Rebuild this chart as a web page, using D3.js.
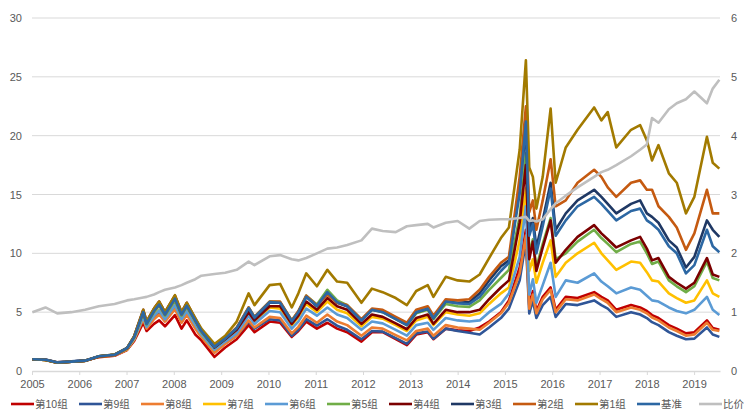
<!DOCTYPE html>
<html>
<head>
<meta charset="utf-8">
<script src="https://cdn.jsdelivr.net/npm/d3@7"></script>
<style>
    body { margin: 0; background: #fff; }
    #chart { width: 744px; height: 414px; }
    text { font-family: "Liberation Sans", Arial, "Noto Sans CJK SC", sans-serif; }
</style>
</head>
<body>
<div id="chart"></div>
<script>
// values (left axis for groups/benchmark, right axis for ratio)
const dates = ["2005-01-04","2005-04-15","2005-07-15","2005-11-01","2006-02-15","2006-06-01","2006-10-01",
    "2007-01-05","2007-03-01","2007-05-10","2007-06-05","2007-08-01","2007-09-10","2007-10-25",
    "2008-01-10","2008-03-01","2008-04-10","2008-06-15","2008-08-01","2008-11-10",
    "2009-02-01","2009-05-01","2009-08-01","2009-09-15",
    "2010-01-10","2010-04-01","2010-06-30","2010-08-20","2010-10-20",
    "2011-01-10","2011-04-01","2011-06-15","2011-09-01","2011-12-20",
    "2012-03-10","2012-06-01","2012-09-10","2012-12-05",
    "2013-02-15","2013-05-15","2013-06-28","2013-10-01",
    "2014-01-01","2014-04-01","2014-06-20","2014-09-01","2014-12-01",
    "2015-02-01","2015-04-25","2015-06-12","2015-07-08","2015-08-05","2015-09-01","2015-10-20","2015-12-20",
    "2016-01-28","2016-04-15","2016-07-15","2016-11-20",
    "2017-01-15","2017-03-05","2017-05-10","2017-09-01","2017-11-10",
    "2018-01-01","2018-02-10","2018-04-01","2018-06-20","2018-08-20","2018-10-30",
    "2019-01-03","2019-04-10","2019-05-25","2019-07-15"];

const group1 = [1.00,0.93,0.70,0.78,0.86,1.25,1.40,1.95,2.95,5.20, 4.20,5.30,5.90,5.00,6.45,5.00,5.80,4.50,3.60,2.30,
    3.00,4.20,6.60,5.60,7.30,7.40,5.40,6.60,8.30,7.20, 8.60,7.60,7.50,5.80,7.00,6.70,6.20,5.60,6.80,7.30,
    6.30,8.00,7.70,7.60,8.20,9.60,11.30,12.20,18.80,26.40, 17.30,16.50,13.80,16.50,22.30,16.00,19.00,20.50,22.40,21.30,
    22.00,19.00,20.50,20.90,19.60,17.90,19.20,16.80,16.00,13.40, 14.80,19.90,17.70,17.20];
const group2 = [1.00,0.94,0.71,0.79,0.87,1.24,1.38,1.93,2.90,5.00, 4.05,5.10,5.65,4.80,6.15,4.80,5.55,4.30,3.40,2.10,
    2.80,3.70,5.40,4.60,5.90,5.90,4.30,5.10,6.40,5.60, 6.50,5.80,5.60,4.40,5.30,5.20,4.60,4.10,5.20,5.50,
    4.70,6.10,6.00,6.10,6.90,8.00,9.20,9.70,16.50,22.50, 13.50,14.50,12.00,14.50,18.00,14.00,14.50,16.00,17.10,16.50,
    15.60,14.80,16.00,16.20,15.40,15.40,14.00,13.10,12.20,10.30, 11.70,15.40,13.40,13.40];
const group3 = [1.00,0.95,0.72,0.80,0.88,1.26,1.40,1.96,2.92,5.05, 4.05,5.15,5.70,4.85,6.20,4.85,5.60,4.30,3.40,2.05,
    2.75,3.60,5.30,4.50,5.80,5.80,4.20,5.00,6.30,5.50, 6.60,5.80,5.50,4.30,5.20,5.05,4.45,3.95,5.00,5.30,
    4.50,5.90,5.80,5.85,6.60,7.70,8.90,9.40,15.50,20.50, 12.00,13.00,10.50,12.80,16.00,12.00,13.40,14.50,15.40,14.80,
    14.20,13.40,14.20,14.50,13.40,13.10,12.60,11.10,10.50,8.80, 9.70,12.80,12.00,11.40];
const group4 = [1.00,0.93,0.70,0.78,0.86,1.22,1.36,1.92,2.95,5.20, 4.20,5.30,5.90,5.00,6.40,5.00,5.80,4.45,3.50,2.00,
    2.70,3.50,5.00,4.30,5.50,5.50,4.00,4.70,5.90,5.20, 6.20,5.50,5.20,4.00,4.80,4.60,4.05,3.55,4.50,4.80,
    4.00,5.20,5.00,5.00,5.20,6.10,7.10,7.70,12.60,17.50, 9.50,11.00,8.50,10.50,12.80,9.20,10.30,11.40,12.40,11.70,
    11.20,10.50,11.10,11.40,10.40,9.40,9.60,8.00,7.50,7.00, 7.50,9.60,8.20,8.00];
const group5 = [1.00,0.94,0.71,0.79,0.87,1.24,1.38,1.93,2.85,4.90, 3.95,5.00,5.55,4.70,6.00,4.70,5.45,4.20,3.30,2.00,
    2.70,3.60,5.40,4.60,5.90,5.85,4.30,5.05,6.40,5.65, 6.90,6.00,5.60,4.35,5.20,5.00,4.40,3.90,4.90,5.20,
    4.40,5.70,5.50,5.45,6.00,6.90,7.90,8.60,13.10,18.50, 10.00,11.20,8.80,10.80,13.00,9.50,10.00,11.00,12.00,11.30,
    10.80,10.10,10.80,11.00,10.00,9.10,9.30,7.70,7.20,6.70, 7.20,9.30,7.90,7.70];
const group6 = [1.00,0.95,0.73,0.80,0.88,1.23,1.36,1.88,2.75,4.60, 3.75,4.70,5.15,4.40,5.60,4.40,5.10,3.90,3.10,1.80,
    2.50,3.20,4.70,4.00,5.10,5.00,3.60,4.20,5.30,4.70, 5.40,4.80,4.50,3.50,4.20,4.05,3.50,3.00,3.90,4.10,
    3.50,4.50,4.30,4.20,4.30,5.00,5.70,6.60,9.70,14.00, 6.50,7.80,5.80,7.30,9.20,6.30,7.70,7.50,8.30,7.60,
    7.20,6.60,7.10,6.90,6.40,6.00,5.90,5.40,5.10,4.90, 5.20,6.30,5.20,4.75];
const group7 = [1.00,0.94,0.72,0.79,0.87,1.22,1.35,1.85,2.72,4.65, 3.80,4.75,5.20,4.45,5.65,4.45,5.15,3.95,3.10,1.80,
    2.55,3.35,4.90,4.20,5.40,5.30,3.90,4.55,5.70,5.00, 5.90,5.20,4.90,3.80,4.60,4.45,3.90,3.40,4.30,4.60,
    3.90,5.00,4.80,4.70,4.90,5.70,6.60,7.10,11.10,15.50, 8.50,9.50,7.50,9.20,11.10,8.00,9.20,10.00,10.90,10.00,
    9.40,8.60,9.30,9.20,8.40,7.70,7.60,6.60,6.20,5.80, 6.00,7.70,6.60,6.30];
const group8 = [1.00,0.96,0.74,0.81,0.89,1.21,1.33,1.82,2.65,4.40, 3.60,4.40,4.80,4.20,5.25,4.10,4.80,3.60,2.90,1.55,
    2.30,3.00,4.30,3.70,4.60,4.50,3.20,3.75,4.70,4.10, 4.80,4.20,3.90,3.00,3.70,3.60,3.05,2.60,3.40,3.60,
    3.00,3.90,3.70,3.60,3.50,4.10,4.90,5.80,8.30,11.50, 5.30,6.50,4.90,6.10,6.90,5.00,6.10,6.00,6.50,6.10,
    5.80,5.00,5.40,5.20,4.90,4.55,4.30,3.70,3.40,3.00, 3.10,4.10,3.50,3.40];
const group9 = [1.00,0.97,0.75,0.82,0.90,1.24,1.37,1.86,2.70,4.50, 3.65,4.50,4.95,4.25,5.35,4.20,4.90,3.70,2.95,1.60,
    2.35,3.00,4.20,3.60,4.40,4.30,3.00,3.50,4.40,3.85, 4.40,3.85,3.50,2.70,3.40,3.35,2.80,2.30,3.20,3.35,
    2.75,3.60,3.40,3.25,3.10,3.70,4.50,5.30,7.70,11.00, 4.90,6.00,4.50,5.60,6.30,4.60,5.70,5.60,6.00,5.60,
    5.30,4.60,5.00,4.80,4.50,4.15,3.90,3.30,3.00,2.70, 2.75,3.70,3.10,2.90];
const group10 = [1.00,0.95,0.73,0.80,0.87,1.18,1.30,1.78,2.55,4.10, 3.40,4.00,4.30,3.80,4.75,3.60,4.30,3.10,2.60,1.20,
    2.00,2.70,3.90,3.30,4.20,4.10,2.90,3.40,4.20,3.60, 4.10,3.60,3.30,2.50,3.30,3.30,2.70,2.20,3.10,3.30,
    2.70,3.60,3.45,3.40,3.70,4.20,5.00,6.00,8.80,12.00, 5.60,6.80,5.10,6.30,7.10,5.20,6.30,6.20,6.70,6.30,
    6.00,5.20,5.60,5.40,5.10,4.75,4.50,3.90,3.60,3.20, 3.30,4.30,3.65,3.50];
const benchmark = [1.00,0.95,0.72,0.80,0.88,1.25,1.38,1.94,2.88,5.00, 4.00,5.10,5.65,4.80,6.15,4.80,5.55,4.30,3.40,2.05,
    2.75,3.65,5.35,4.55,5.85,5.80,4.25,5.00,6.30,5.55, 6.70,5.85,5.50,4.30,5.20,5.00,4.40,3.90,5.00,5.30,
    4.50,5.90,5.75,5.70,6.30,7.30,8.50,9.20,15.10,21.20, 11.50,12.50,10.00,12.30,15.50,11.50,12.80,14.00,14.80,14.20,
    13.60,12.80,13.60,13.80,12.80,12.50,12.00,10.60,10.00,8.30, 9.00,12.00,10.60,10.10];
const ratio = [1.00,1.08,0.98,1.00,1.04,1.10,1.14,1.20,1.22,1.25, 1.26,1.30,1.34,1.38,1.42,1.46,1.50,1.56,1.62,1.65,
    1.67,1.72,1.86,1.80,1.95,1.97,1.90,1.88,1.92,2.00, 2.08,2.10,2.14,2.22,2.42,2.38,2.36,2.46,2.48,2.50,
    2.44,2.52,2.55,2.42,2.55,2.57,2.58,2.58,2.60,2.62, 2.55,2.56,2.54,2.58,2.75,2.85,2.98,3.12,3.30,3.38,
    3.42,3.50,3.65,3.76,3.85,4.30,4.22,4.45,4.55,4.62, 4.75,4.55,4.80,4.95];

const seriesNames = ["第10组", "第9组", "第8组", "第7组", "第6组", "第5组", "第4组", "第3组", "第2组", "第1组", "基准", "比价"];
const seriesValues = [group10, group9, group8, group7, group6, group5, group4, group3, group2, group1, benchmark, ratio];
const seriesColors = ["#C00000", "#2F5597", "#ED7D31", "#FFC000", "#5B9BD5", "#70AD47", "#7B0000", "#1F3864", "#C55A11", "#A27A00", "#2C67A3", "#BFBFBF"];
const leftTicks = [0, 5, 10, 15, 20, 25, 30];
const rightTicks = [0, 1, 2, 3, 4, 5, 6];

class GroupChart {

    constructor(parentElement) {
        this.parentElement = parentElement;
        this.parseDate = d3.timeParse("%Y-%m-%d");
        this.initVis();
    }

    initVis() {
        let vis = this;

        vis.margin = {top: 18, right: 24, bottom: 43, left: 32};
        vis.width = 744 - vis.margin.left - vis.margin.right;
        vis.height = 414 - vis.margin.top - vis.margin.bottom;

        vis.svg = d3.select("#" + vis.parentElement).append("svg")
            .attr("width", 744)
            .attr("height", 414)
            .append("g")
            .attr("transform", `translate(${vis.margin.left}, ${vis.margin.top})`);

        vis.x = d3.scaleTime()
            .domain([new Date(2005, 0, 1), new Date(2019, 6, 20)])
            .range([0, vis.width]);

        vis.y = d3.scaleLinear().domain([0, 30]).range([vis.height, 0]);
        vis.yRight = d3.scaleLinear().domain([0, 6]).range([vis.height, 0]);

        vis.wrangleData();
    }

    wrangleData() {
        let vis = this;

        vis.displayData = seriesNames.map((name, i) => ({
            name: name,
            color: seriesColors[i],
            right: name === "比价",
            values: dates.map((d, j) => ({date: vis.parseDate(d), value: seriesValues[i][j]}))
        }));

        vis.updateVis();
    }

    updateVis() {
        let vis = this;

        // grid lines
        vis.svg.append("g").selectAll("line")
            .data(leftTicks.filter(d => d > 0))
            .join("line")
            .attr("x1", 0)
            .attr("x2", vis.width)
            .attr("y1", d => vis.y(d))
            .attr("y2", d => vis.y(d))
            .attr("stroke", "#D9D9D9")
            .attr("stroke-width", 1);

        // axes
        let xAxis = d3.axisBottom(vis.x)
            .ticks(d3.timeYear.every(1))
            .tickFormat(d3.timeFormat("%Y"))
            .tickSize(4)
            .tickSizeOuter(0)
            .tickPadding(5);

        let xg = vis.svg.append("g")
            .attr("class", "x-axis axis")
            .attr("transform", "translate(0," + vis.height + ")")
            .call(xAxis);
        xg.select(".domain").attr("stroke", "#D9D9D9").attr("stroke-width", 1.5);
        xg.selectAll(".tick line").attr("stroke", "#D9D9D9");
        xg.selectAll("text").attr("fill", "#595959").attr("font-size", 11);

        let yg = vis.svg.append("g")
            .attr("class", "y-axis axis")
            .call(d3.axisLeft(vis.y).tickValues(leftTicks).tickSize(0).tickPadding(10));
        yg.select(".domain").remove();
        yg.selectAll("text").attr("fill", "#595959").attr("font-size", 11);

        let yrg = vis.svg.append("g")
            .attr("class", "y-axis-right axis")
            .attr("transform", "translate(" + vis.width + ",0)")
            .call(d3.axisRight(vis.yRight).tickValues(rightTicks).tickFormat(d3.format("d")).tickSize(0).tickPadding(11));
        yrg.select(".domain").remove();
        yrg.selectAll("text").attr("fill", "#595959").attr("font-size", 11);

        // lines
        let lineLeft = d3.line().x(d => vis.x(d.date)).y(d => vis.y(d.value));
        let lineRight = d3.line().x(d => vis.x(d.date)).y(d => vis.yRight(d.value));

        vis.svg.selectAll(".series")
            .data(vis.displayData)
            .join("path")
            .attr("class", "series")
            .attr("fill", "none")
            .attr("stroke", d => d.color)
            .attr("stroke-width", 2.6)
            .attr("stroke-linejoin", "round")
            .attr("d", d => d.right ? lineRight(d.values) : lineLeft(d.values));

        // legend
        let legend = d3.select("#" + vis.parentElement).select("svg")
            .append("g")
            .attr("transform", "translate(0, 404)");

        let items = legend.selectAll(".legend-item")
            .data(vis.displayData)
            .join("g")
            .attr("class", "legend-item")
            .attr("transform", (d, i) => `translate(${i === 0 ? 11 : 79 + (i - 1) * 62}, 0)`);

        items.append("line")
            .attr("x1", 0).attr("x2", 23)
            .attr("stroke", d => d.color)
            .attr("stroke-width", 2.6);

        items.append("text")
            .attr("x", 24)
            .attr("dy", "0.35em")
            .attr("font-size", 10.5)
            .attr("fill", "#595959")
            .text(d => d.name);
    }
}

new GroupChart("chart");
</script>
</body>
</html>
